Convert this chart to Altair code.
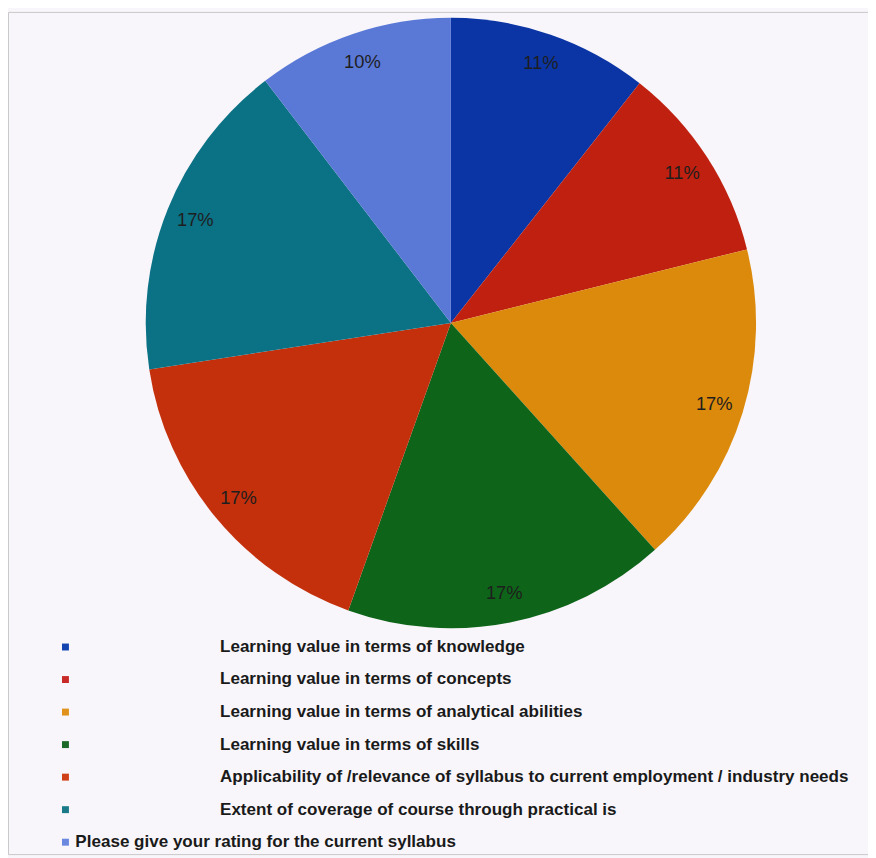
import altair as alt
import pandas as pd

categories = [
    "Learning value in terms of knowledge",
    "Learning value in terms of concepts",
    "Learning value in terms of analytical abilities",
    "Learning value in terms of skills",
    "Applicability of /relevance of syllabus to current employment / industry needs",
    "Extent of coverage of course through practical is",
    "Please give your rating for the current syllabus",
]
shares = [10.6, 10.5, 17.2, 17.1, 17.1, 17.0, 10.4]
pct_labels = ["11%", "11%", "17%", "17%", "17%", "17%", "10%"]
slice_colors = ["#0B35A5", "#C0200F", "#DC8A0C", "#0E6419", "#C4300C", "#0B7185", "#5A78D6"]
legend_colors = ["#1444B0", "#C82A28", "#E0921C", "#1C6A28", "#D04018", "#1A7A88", "#6A88E0"]

pie_df = pd.DataFrame({
    "category": categories,
    "share": shares,
    "order": list(range(len(categories))),
    "label": pct_labels,
})
leg_df = pd.DataFrame({
    "entry": categories,
    "row": list(range(len(categories))),
})

CX, CY = 447, 314

base = alt.Chart(pie_df).encode(
    theta=alt.Theta("share:Q", stack=True),
    order=alt.Order("order:Q"),
)
arcs = base.mark_arc(radius=308).encode(
    color=alt.Color("category:N", scale=alt.Scale(domain=categories, range=slice_colors), legend=None),
    x=alt.value(CX), y=alt.value(CY),
)
labels = base.mark_text(radius=278, fontSize=18.5, font="Liberation Sans", color="#1e1e1e").encode(
    text="label:N", x=alt.value(CX), y=alt.value(CY),
)

ypos = alt.Y("entry:N", scale=alt.Scale(type="point", domain=categories, range=[641, 838], padding=0), axis=None)

leg_base = alt.Chart(leg_df)
markers = leg_base.mark_square(size=49, opacity=1).encode(
    y=ypos,
    x=alt.value(58),
    color=alt.Color("entry:N", scale=alt.Scale(domain=categories, range=legend_colors), legend=None),
)
text_style = dict(align="left", baseline="middle", fontSize=17.2, fontWeight="bold",
                  font="Liberation Sans", color="#1a1a1a")
texts_main = leg_base.transform_filter("datum.row < 6").mark_text(**text_style).encode(
    y=ypos, x=alt.value(214), text="entry:N",
)
texts_last = leg_base.transform_filter("datum.row == 6").mark_text(**text_style).encode(
    y=ypos, x=alt.value(68), text="entry:N",
)

chart = alt.layer(arcs, labels, markers, texts_main, texts_last).resolve_scale(color="independent").properties(
    width=868, height=850, padding=0, autosize="none", background="#F8F6FA",
).configure_view(stroke="#c8c8c8", strokeWidth=1)

chart.save("out.html", embed_options={"renderer": "svg", "actions": False})
